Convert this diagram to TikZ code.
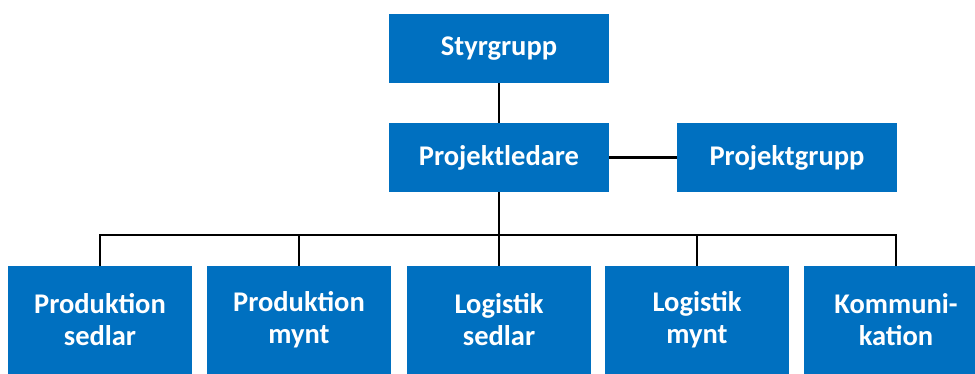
\documentclass[tikz,border=0pt]{standalone}
\usepackage{fontspec}
\setmainfont{Carlito}
\definecolor{boxblue}{HTML}{0070C0}
\begin{document}
\begin{tikzpicture}[x=1pt,y=-1pt,
  orgbox/.style={fill=boxblue, draw=none, text=white, font=\bfseries\fontsize{28.5}{32}\selectfont, align=center, inner sep=0pt},
  topbox/.style={orgbox, minimum width=220, minimum height=69},
  botbox/.style={orgbox, minimum width=184, minimum height=108},
  link/.style={draw=black, line width=2.2pt}]
\useasboundingbox (0,0) rectangle (975,374);
\node[topbox] (sg) at (499,48.5) {Styrgrupp};
\node[topbox] (pl) at (499,157.5) {Projektledare};
\node[topbox] (pg) at (787,157.5) {Projektgrupp};
\node[botbox] (c1) at (100,320) {Produktion\\sedlar};
\node[botbox] (c2) at (299,320) {Produktion\\mynt};
\node[botbox] (c3) at (499,320) {Logistik\\sedlar};
\node[botbox] (c4) at (697,320) {Logistik\\mynt};
\node[botbox] (c5) at (896,320) {Kommuni-\\kation};
\coordinate (bus) at (499,235);
\draw[link] (sg.south) -- (pl.north);
\draw[link] (pl.east) -- (pg.west);
\draw[link] (pl.south) -- (bus);
\draw[link] (bus) -| (c1.north);
\draw[link] (bus) -| (c2.north);
\draw[link] (bus) -- (c3.north);
\draw[link] (bus) -| (c4.north);
\draw[link] (bus) -| (c5.north);
\end{tikzpicture}
\end{document}
